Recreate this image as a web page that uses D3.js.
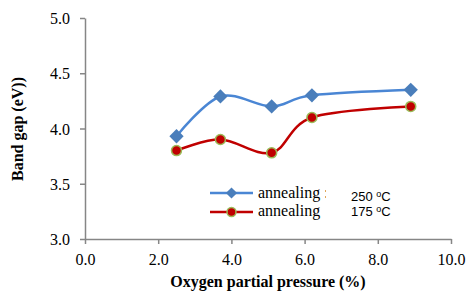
<!DOCTYPE html>
<html>
<head>
<meta charset="utf-8">
<script src="https://d3js.org/d3.v7.min.js"></script>
<style>
  body { margin: 0; background: #fff; }
  svg { display: block; }
</style>
</head>
<body>
<script>
// data
var pressure = [2.5, 3.7, 5.1, 6.2, 8.9];
var gap250 = [3.93, 4.29, 4.20, 4.30, 4.35];
var gap175 = [3.80, 3.90, 3.78, 4.10, 4.20];
var xTicks = [0, 2, 4, 6, 8, 10];
var yTicks = [3.0, 3.5, 4.0, 4.5, 5.0];

var W = 472, H = 300;
var svg = d3.select("body").append("svg").attr("width", W).attr("height", H);

var x = d3.scaleLinear().domain([0, 10]).range([85, 451]);
var y = d3.scaleLinear().domain([3, 5]).range([239, 18]);

var axisColor = "#868686";
var serif = "'Liberation Serif', 'Times New Roman', serif";

// x axis
var gx = svg.append("g").attr("transform", "translate(0,239)")
  .call(d3.axisBottom(x).tickValues(xTicks).tickSize(5).tickSizeOuter(0).tickFormat(d3.format(".1f")));
// y axis
var gy = svg.append("g").attr("transform", "translate(85,0)")
  .call(d3.axisLeft(y).tickValues(yTicks).tickSize(5).tickSizeOuter(0).tickFormat(d3.format(".1f")));

[gx, gy].forEach(function(g) {
  g.select(".domain").attr("stroke", axisColor).attr("stroke-width", 1.5);
  g.selectAll(".tick line").attr("stroke", axisColor).attr("stroke-width", 1.5);
  g.selectAll(".tick text").attr("fill", "#000").style("font-family", serif).style("font-size", "16px");
});
gx.selectAll(".tick text").attr("dy", "0").attr("y", 26);
gy.selectAll(".tick text").attr("x", -15).attr("dy", "0.35em");

// axis titles
svg.append("text")
  .attr("x", 268).attr("y", 287)
  .attr("text-anchor", "middle")
  .style("font-family", serif).style("font-size", "16px").style("font-weight", "bold")
  .text("Oxygen partial pressure (%)");

svg.append("text")
  .attr("transform", "translate(23,129) rotate(-90)")
  .attr("text-anchor", "middle")
  .style("font-family", serif).style("font-size", "16px").style("font-weight", "bold")
  .text("Band gap (eV))");

var line = d3.line()
  .x(function(d) { return x(d[0]); })
  .y(function(d) { return y(d[1]); })
  .curve(d3.curveCatmullRom.alpha(0));

var blue = "#4a86d4", blueMark = "#4a7ebb";
var red = "#c00000", redEdge = "#9bbb59";

var s250 = pressure.map(function(p, i) { return [p, gap250[i]]; });
var s175 = pressure.map(function(p, i) { return [p, gap175[i]]; });

svg.append("path").datum(s250).attr("d", line)
  .attr("fill", "none").attr("stroke", blue).attr("stroke-width", 2.5);
svg.append("path").datum(s175).attr("d", line)
  .attr("fill", "none").attr("stroke", red).attr("stroke-width", 2.5);

var diamond = d3.symbol().type(d3.symbolDiamond2).size(130);

svg.selectAll(".d250").data(s250).enter().append("path")
  .attr("transform", function(d) { return "translate(" + x(d[0]) + "," + y(d[1]) + ")"; })
  .attr("d", diamond)
  .attr("fill", blueMark);

svg.selectAll(".c175").data(s175).enter().append("circle")
  .attr("cx", function(d) { return x(d[0]); })
  .attr("cy", function(d) { return y(d[1]); })
  .attr("r", 5)
  .attr("fill", red).attr("stroke", redEdge).attr("stroke-width", 1.5);

// legend
var lg = svg.append("g");
lg.append("line").attr("x1", 210).attr("x2", 253).attr("y1", 193).attr("y2", 193)
  .attr("stroke", blue).attr("stroke-width", 2.5);
lg.append("path").attr("transform", "translate(231.5,193)")
  .attr("d", d3.symbol().type(d3.symbolDiamond2).size(80)).attr("fill", blueMark);
lg.append("line").attr("x1", 210).attr("x2", 253).attr("y1", 212).attr("y2", 212)
  .attr("stroke", red).attr("stroke-width", 2.5);
lg.append("circle").attr("cx", 231.5).attr("cy", 212).attr("r", 4.5)
  .attr("fill", red).attr("stroke", redEdge).attr("stroke-width", 1.5);

svg.append("clipPath").attr("id", "lgclip")
  .append("rect").attr("x", 250).attr("y", 180).attr("width", 76).attr("height", 45);

lg.append("text").attr("x", 258).attr("y", 198).attr("clip-path", "url(#lgclip)")
  .style("font-family", serif).style("font-size", "16px").text("annealing :");
lg.append("text").attr("x", 258).attr("y", 216)
  .style("font-family", serif).style("font-size", "16px").text("annealing");

var sans = "'Liberation Sans', Arial, sans-serif";
[["250", 201], ["175", 216]].forEach(function(t) {
  var tx = lg.append("text").attr("x", 351).attr("y", t[1])
    .style("font-family", sans).style("font-size", "13px").attr("fill", "#000");
  tx.append("tspan").text(t[0] + " ");
  tx.append("tspan").attr("dy", -4).style("font-size", "9px").text("o");
  tx.append("tspan").attr("dy", 4).text("C");
});
</script>
</body>
</html>
